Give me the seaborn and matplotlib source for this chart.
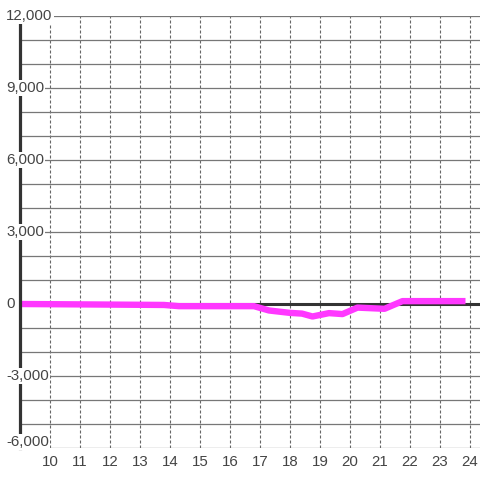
import numpy as np
import pandas as pd
import seaborn as sns
import matplotlib.pyplot as plt

# series
x_vals = [9.0, 11.5, 13.8, 14.3, 16.8, 17.3, 18.0, 18.4, 18.75, 19.3, 19.75,
          20.25, 21.15, 21.75, 23.85]
y_vals = [0, -20, -40, -90, -90, -270, -370, -400, -520, -380, -420,
          -150, -200, 120, 120]

x_ticks = list(range(10, 25))
y_grid = list(range(-6000, 12001, 1000))
y_label_vals = [12000, 9000, 6000, 3000, 0, -3000, -6000]
y_label_txt = ["12,000", "9,000", "6,000", "3,000", "0", "-3,000", "-6,000"]

sns.set_style("white")
plt.rcParams["font.family"] = ["Liberation Sans", "DejaVu Sans"]

fig = plt.figure(figsize=(4.8, 4.8), dpi=100)
ax = fig.add_axes([20 / 480, 1 - 448 / 480, 460 / 480, 432 / 480])

df = pd.DataFrame({"x": x_vals, "y": y_vals})
ax.axhline(0, color="#333333", linewidth=2.2, zorder=1.5)
sns.lineplot(data=df, x="x", y="y", ax=ax, color="#ff38ff", linewidth=4.6,
             solid_capstyle="butt", solid_joinstyle="round", zorder=2)

ax.set_xlim(9, 9 + 460 / 30)
ax.set_ylim(-6000, 12000)
ax.set_xticks(x_ticks)
ax.set_xticklabels([str(t) for t in x_ticks])
ax.set_yticks(y_grid)
ax.set_yticklabels([])
ax.set_axisbelow(True)
ax.grid(axis="y", color="#777777", linewidth=0.9, linestyle="-")
ax.grid(axis="x", color="#666666", linewidth=0.8, linestyle=(0, (2.7, 1.8)))
ax.tick_params(axis="both", length=0)
ax.tick_params(axis="x", pad=5, labelsize=10.8, labelcolor="#444444")
ax.set_xlabel("")
ax.set_ylabel("")

for s in ["top", "right", "bottom"]:
    ax.spines[s].set_visible(False)
ax.spines["left"].set_color("#333333")
ax.spines["left"].set_linewidth(2.3)
ax.spines["left"].set_zorder(3)

for v, t in zip(y_label_vals, y_label_txt):
    # bottom label sits a little above its gridline, as in the reference
    yv = v + 250 if v == -6000 else v
    ax.text(-14 / 460, yv, t, transform=ax.get_yaxis_transform(),
            ha="left", va="center", fontsize=10.8, color="#444444",
            clip_on=False, zorder=4,
            bbox=dict(facecolor="white", edgecolor="none", pad=1.0))

fig.savefig("out.png", dpi=100)
plt.close(fig)
